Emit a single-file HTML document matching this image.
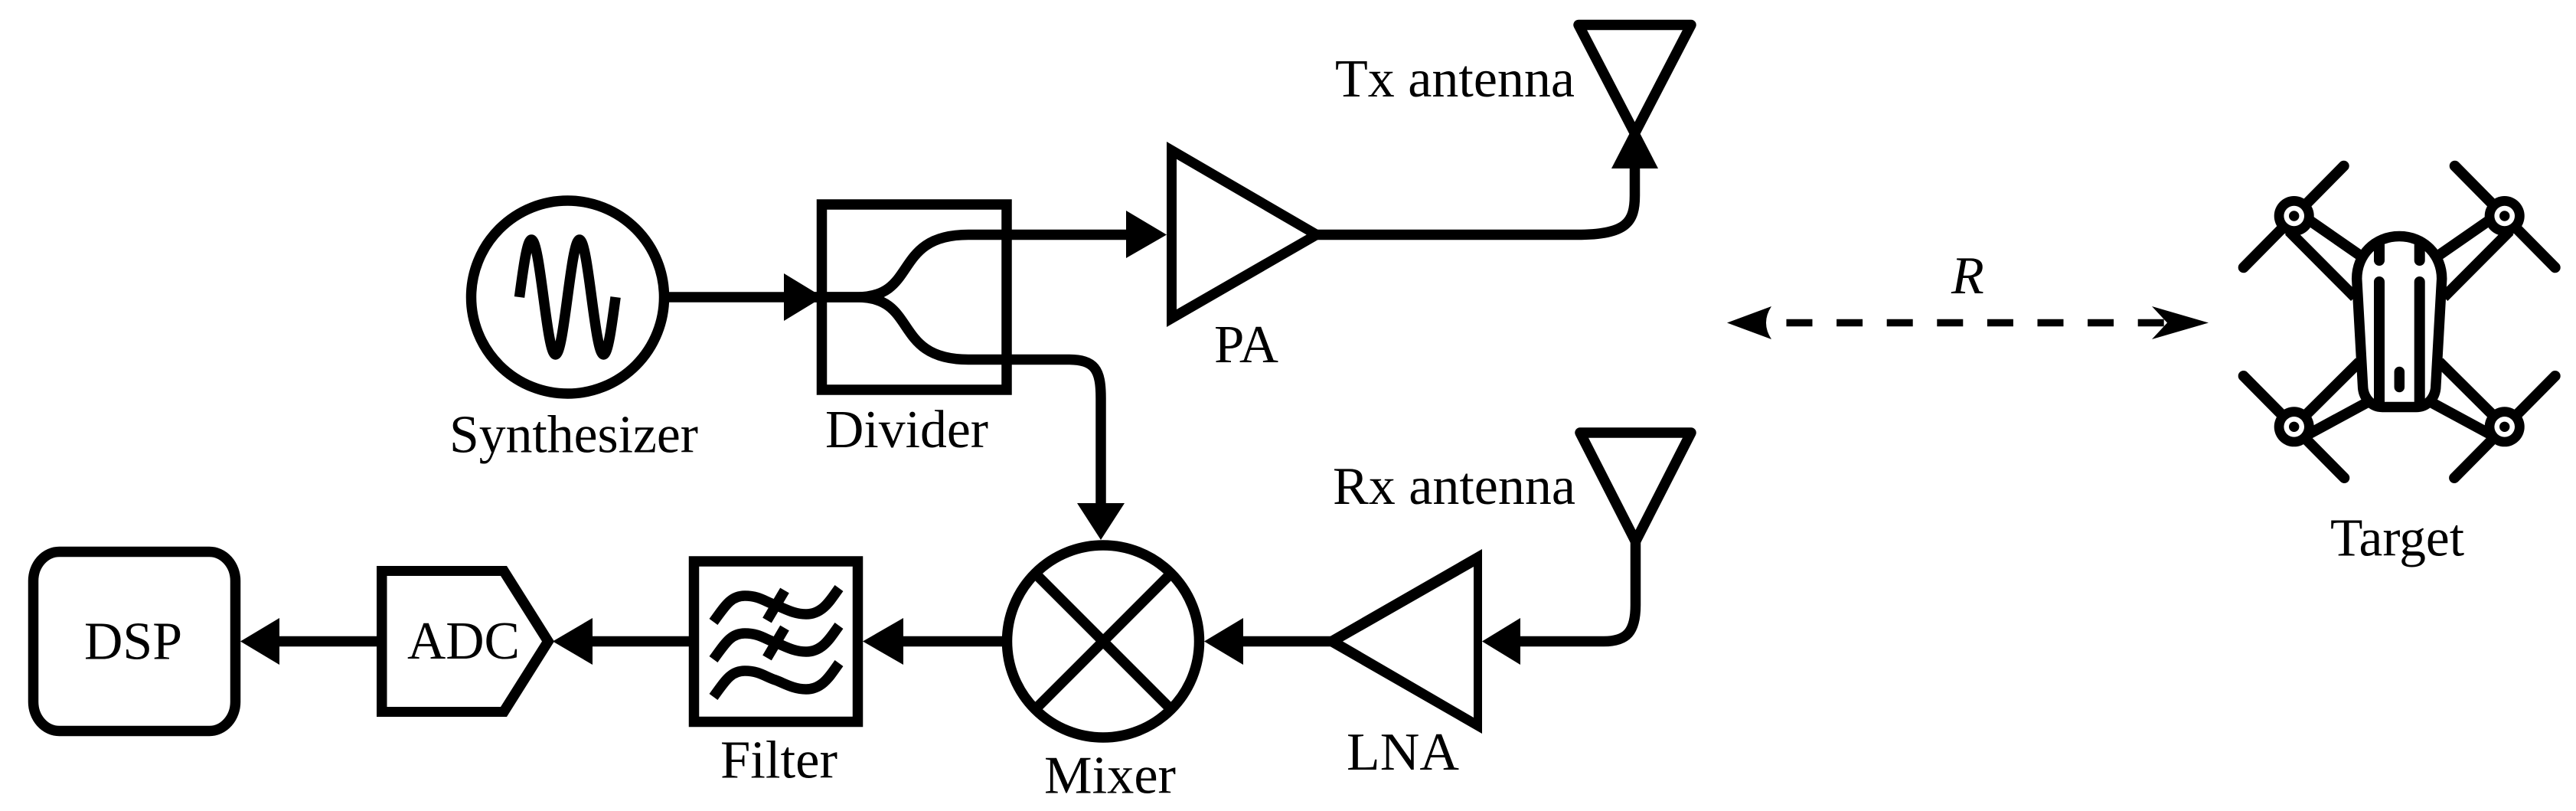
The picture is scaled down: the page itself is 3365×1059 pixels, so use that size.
<!DOCTYPE html>
<html><head><meta charset="utf-8"><style>html,body{margin:0;padding:0;background:#fff}svg{display:block}text{font-family:"Liberation Serif",serif;font-size:70px;fill:#000}</style></head><body>
<svg width="3365" height="1059" viewBox="0 0 3365 1059" xmlns="http://www.w3.org/2000/svg">
<rect width="3365" height="1059" fill="#fff"/>
<g fill="none" stroke="#000" stroke-width="13.5">
<!-- Synthesizer -->
<circle cx="741.5" cy="388" r="126"/>
<path d="M678.5,388c5.1,-38.4 10,-75 15.7,-75c5.7,0 10.6,36.6 15.7,75c5.1,38.4 10,75 15.7,75c5.7,0 10.6,-36.6 15.7,-75c5.1,-38.4 10,-75 15.7,-75c5.7,0 10.6,36.6 15.7,75c5.1,38.4 10,75 15.7,75c5.7,0 10.6,-36.6 15.7,-75"/>
<path d="M870,388H1030"/>
<!-- Divider -->
<rect x="1073.5" y="267" width="241.5" height="242"/>
<path d="M1060,388H1120C1200,388 1165,306.5 1265,306.5H1480"/>
<path d="M1060,388H1120C1200,388 1165,469.5 1265,469.5H1395C1430,469.5 1438,482 1438,520V662"/>
<!-- PA to Tx -->
<path d="M1715,306.5H2060C2125,306.5 2135.5,290 2135.5,255V215"/>
<!-- Tx antenna -->
<path d="M2062,32.5H2209L2135.5,174Z" stroke-linejoin="round"/>
<!-- Rx antenna -->
<path d="M2064,565H2209L2136.5,707Z" stroke-linejoin="round"/>
<path d="M2136.5,700V790C2136.5,825 2125,837.5 2095,837.5H1980"/>
<!-- Mixer -->
<circle cx="1441" cy="837.5" r="125.5"/>
<path d="M1352.3,748.8L1529.7,926.2M1529.7,748.8L1352.3,926.2"/>
<!-- Lines -->
<path d="M1745,837.5H1620"/>
<path d="M1315,837.5H1175"/>
<path d="M905,837.5H770"/>
<path d="M498,837.5H360"/>
<!-- Filter -->
<rect x="906.5" y="733" width="214" height="209.5"/>
<path d="M932,812C948,790 955,778 973,778C992,778 1000,786 1013,790C1026,795 1037,802 1053,802C1075,802 1085,783 1096,768"/>
<path d="M932,861C948,839 955,827 973,827C992,827 1000,835 1013,839C1026,844 1037,851 1053,851C1075,851 1085,832 1096,817"/>
<path d="M932,910C948,888 955,876 973,876C992,876 1000,884 1013,888C1026,893 1037,900 1053,900C1075,900 1085,881 1096,866"/>
<path d="M1025,771L1002,810M1025,820L1002,859"/>
<!-- DSP -->
<rect x="43.5" y="720.5" width="264" height="234" rx="34" ry="38"/>
</g>
<!-- filled outlines -->
<path fill="#000" fill-rule="evenodd" d="M492,739H662L724,837.5L662,936H492ZM505.5,752V923H654L708,837.5L654,752Z"/>
<path fill="#000" fill-rule="evenodd" d="M1524,185L1733,306.5L1524,427ZM1537,207.7V404L1706.7,306.5Z"/>
<path fill="#000" fill-rule="evenodd" d="M1936,717L1726,837.5L1936,958ZM1925,740V937L1754,837.5Z"/>
<g fill="#000">
<path d="M1024,357L1075,388L1024,419Z"/>
<path d="M1471,275L1524,306.5L1471,337Z"/>
<path d="M2135.5,161L2166,220H2105Z"/>
<path d="M1407,657H1469L1438,705Z"/>
<path d="M1936,837.5L1986,807V868Z"/>
<path d="M1573,837.5L1624,807V868Z"/>
<path d="M1127,837.5L1180,807V868Z"/>
<path d="M722,837.5L774,807V868Z"/>
<path d="M314,837.5L365,807V868Z"/>
<!-- dashed arrow -->
<path d="M2256,421.5L2314,400Q2300,421.5 2314,443Z"/>
<path d="M2885,421.5L2811,400L2831,421.5L2811,443Z"/>
</g>
<path d="M2333.5,421.5H2830" stroke="#000" stroke-width="9.5" stroke-dasharray="34 31.6" fill="none"/>
<!-- Drone -->
<g fill="none" stroke="#000" stroke-width="14" stroke-linecap="round">
<path d="M2930.7,349.3L3061.7,216.7M3206.7,216.7L3337.7,349.3M2930.7,491L3062.3,624M3337.7,491L3206.1,624"/>
</g>
<g fill="none" stroke="#000" stroke-width="14">
<path d="M3010,283L3085,335M3258.4,283L3183.4,335"/>
<path d="M2990,301.7L3076,388M3278.4,301.7L3192.4,388"/>
<path d="M3010,544L3082,472.5M3258.4,544L3186.4,472.5"/>
<path d="M3010,570L3095,524M3258.4,570L3173.4,524"/>
</g>
<path fill="#fff" stroke="#000" stroke-width="13.5" d="M3134.2,308.5C3102,308.5 3078.7,333 3078.7,364L3086.7,506.7C3088,520 3098,531.5 3112,531.5H3156.4C3170.4,531.5 3180.4,520 3181.7,506.7L3189.7,364C3189.7,333 3166.4,308.5 3134.2,308.5Z"/>
<g fill="none" stroke="#000" stroke-width="14" stroke-linecap="round">
<path d="M3108,320V340M3160.7,320V340M3108,368V528M3160.7,368V528"/>
<path d="M3134.3,485.5V505.5" stroke-width="13.5"/>
</g>
<g fill="#000">
<circle cx="2996.7" cy="282" r="26"/><circle cx="3271.7" cy="282" r="26"/><circle cx="2996.7" cy="557.3" r="26"/><circle cx="3271.7" cy="557.3" r="26"/>
</g>
<g fill="#fff">
<circle cx="2996.7" cy="282" r="13.3"/><circle cx="3271.7" cy="282" r="13.3"/><circle cx="2996.7" cy="557.3" r="13.3"/><circle cx="3271.7" cy="557.3" r="13.3"/>
</g>
<g fill="#000">
<circle cx="2996.7" cy="282" r="6.7"/><circle cx="3271.7" cy="282" r="6.7"/><circle cx="2996.7" cy="557.3" r="6.7"/><circle cx="3271.7" cy="557.3" r="6.7"/>
</g>
<!-- Labels -->
<text x="587" y="590.7" textLength="325" lengthAdjust="spacingAndGlyphs">Synthesizer</text>
<text x="1078" y="584" textLength="213" lengthAdjust="spacingAndGlyphs">Divider</text>
<text x="1586" y="473" textLength="84" lengthAdjust="spacingAndGlyphs">PA</text>
<text x="1744" y="126" textLength="313" lengthAdjust="spacingAndGlyphs">Tx antenna</text>
<text x="1741" y="658" textLength="317" lengthAdjust="spacingAndGlyphs">Rx antenna</text>
<text x="1759" y="1005" textLength="147" lengthAdjust="spacingAndGlyphs">LNA</text>
<text x="1364" y="1035.7" textLength="172" lengthAdjust="spacingAndGlyphs">Mixer</text>
<text x="941" y="1015.7" textLength="153" lengthAdjust="spacingAndGlyphs">Filter</text>
<text x="532" y="860" textLength="147" lengthAdjust="spacingAndGlyphs">ADC</text>
<text x="110" y="860.7" textLength="128" lengthAdjust="spacingAndGlyphs">DSP</text>
<text x="3044" y="725.7" textLength="175" lengthAdjust="spacingAndGlyphs">Target</text>
<text x="2549" y="383" font-style="italic">R</text>
</svg>
</body></html>
